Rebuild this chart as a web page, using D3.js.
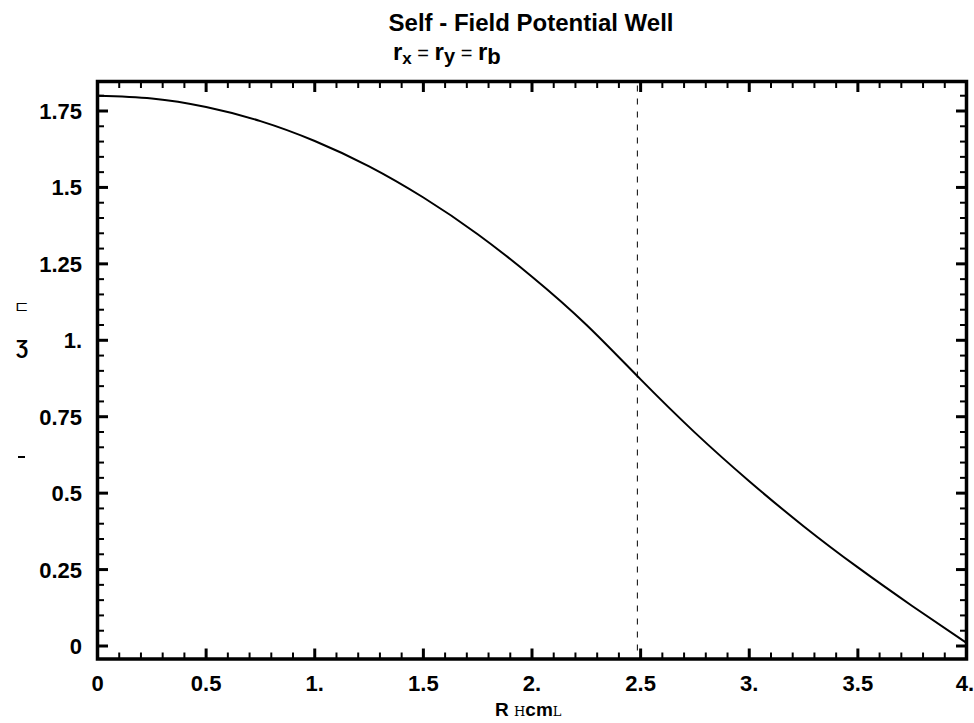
<!DOCTYPE html>
<html>
<head>
<meta charset="utf-8">
<script src="https://cdn.jsdelivr.net/npm/d3@7"></script>
<style>
  body { margin: 0; background: #fff; }
  text { font-family: "Liberation Sans", Arial, sans-serif; }
</style>
</head>
<body>
<svg id="svg1" width="974" height="723"></svg>
<script>
"use strict";

// radius (cm) and potential values
let radius = [0, 0.25, 0.5, 0.75, 1.0, 1.25, 1.5, 1.75, 2.0, 2.25, 2.5, 2.75, 3.0, 3.25, 3.5, 3.75, 4.0];
let potential = [1.800, 1.791, 1.763, 1.717, 1.652, 1.569, 1.467, 1.347, 1.208, 1.051, 0.872, 0.698, 0.539, 0.392, 0.257, 0.131, 0.010];
let beamRadius = 2.485;

let xTicks = [0, 0.5, 1, 1.5, 2, 2.5, 3, 3.5, 4];
let xTickLabels = ["0", "0.5", "1.", "1.5", "2.", "2.5", "3.", "3.5", "4."];
let yTicks = [0, 0.25, 0.5, 0.75, 1, 1.25, 1.5, 1.75];
let yTickLabels = ["0", "0.25", "0.5", "0.75", "1.", "1.25", "1.5", "1.75"];

let svg = d3.select("#svg1");

let x = d3.scaleLinear().domain([0, 4]).range([97.5, 966.5]);
let y = d3.scaleLinear().domain([0, 1.75]).range([646, 111]);
let frameTop = 81.5, frameBottom = 659;

// minor ticks
let xMinor = d3.range(0, 41).map(i => i / 10).filter(v => !xTicks.some(t => Math.abs(t - v) < 1e-6));
let yMinor = d3.range(0, 37).map(i => i / 20).filter(v => !yTicks.some(t => Math.abs(t - v) < 1e-6));

let g = svg.append("g");

// curve
let pts = radius.map((r, i) => [r, potential[i]]);
g.append("path")
    .attr("d", d3.line().x(d => x(d[0])).y(d => y(d[1])).curve(d3.curveNatural)(pts))
    .attr("fill", "none").attr("stroke", "#000").attr("stroke-width", 2);

// dashed line at beam radius
g.append("line")
    .attr("x1", x(beamRadius)).attr("x2", x(beamRadius))
    .attr("y1", frameTop + 4).attr("y2", frameBottom - 2)
    .attr("stroke", "#000").attr("stroke-width", 1).attr("stroke-dasharray", "6,7");

// ticks, all four sides, pointing inward
function tickLines(vals, len, w) {
    vals.forEach(v => {
        let px = x(v);
        g.append("line").attr("x1", px).attr("x2", px).attr("y1", frameBottom).attr("y2", frameBottom - len)
            .attr("stroke", "#000").attr("stroke-width", w);
        g.append("line").attr("x1", px).attr("x2", px).attr("y1", frameTop).attr("y2", frameTop + len)
            .attr("stroke", "#000").attr("stroke-width", w);
    });
}
tickLines(xTicks, 10.5, 3);
tickLines(xMinor, 6.5, 2);

function yTickLines(vals, len, w) {
    vals.forEach(v => {
        let py = y(v);
        g.append("line").attr("x1", x.range()[0]).attr("x2", x.range()[0] + len).attr("y1", py).attr("y2", py)
            .attr("stroke", "#000").attr("stroke-width", w);
        g.append("line").attr("x1", x.range()[1]).attr("x2", x.range()[1] - len).attr("y1", py).attr("y2", py)
            .attr("stroke", "#000").attr("stroke-width", w);
    });
}
yTickLines(yTicks, 10.5, 3);
yTickLines(yMinor, 6.5, 2);

// frame
g.append("rect")
    .attr("x", x.range()[0]).attr("y", frameTop)
    .attr("width", x.range()[1] - x.range()[0]).attr("height", frameBottom - frameTop)
    .attr("fill", "none").attr("stroke", "#000").attr("stroke-width", 3.5);

// tick labels
g.selectAll(".xl").data(xTicks).enter().append("text")
    .attr("x", (d, i) => i === xTicks.length - 1 ? 974 : x(d)).attr("y", 691)
    .attr("text-anchor", (d, i) => i === xTicks.length - 1 ? "end" : "middle")
    .attr("font-size", 22).attr("font-weight", "bold")
    .text((d, i) => xTickLabels[i]);

g.selectAll(".yl").data(yTicks).enter().append("text")
    .attr("x", 82).attr("y", d => y(d) + 8)
    .attr("text-anchor", "end").attr("font-size", 22).attr("font-weight", "bold")
    .text((d, i) => yTickLabels[i]);

// title
svg.append("text").attr("x", 531).attr("y", 31)
    .attr("text-anchor", "middle").attr("font-size", 24).attr("font-weight", "bold")
    .text("Self - Field Potential Well");

let sub = svg.append("text").attr("x", 393).attr("y", 60).attr("font-size", 24).attr("font-weight", "bold");
sub.append("tspan").text("r");
sub.append("tspan").attr("font-size", 17).attr("dy", 4).text("x");
sub.append("tspan").attr("font-weight", "normal").attr("font-size", 20).attr("dy", -4).text(" = ");
sub.append("tspan").text("r");
sub.append("tspan").attr("font-size", 20).attr("dy", 3).text("y");
sub.append("tspan").attr("font-weight", "normal").attr("font-size", 20).attr("dy", -3).text(" = ");
sub.append("tspan").text("r");
sub.append("tspan").attr("font-size", 22).attr("dy", 4).text("b");

// x axis label (garbled brackets kept as in the picture)
let xl = svg.append("text").attr("x", 495).attr("y", 716).attr("font-size", 19).attr("font-weight", "bold");
xl.append("tspan").text("R ");
xl.append("tspan").attr("font-family", "DejaVu Serif").attr("font-weight", "normal").attr("font-size", 13).text("H");
xl.append("tspan").text("cm");
xl.append("tspan").attr("font-family", "DejaVu Serif").attr("font-weight", "normal").attr("font-size", 13).text("L");

// y axis label fragments
svg.append("text").attr("x", 21).attr("y", 311).attr("font-size", 16).attr("text-anchor", "middle")
    .attr("font-family", "DejaVu Sans").text("⊏");
svg.append("text").attr("x", 22).attr("y", 354).attr("font-size", 20)
    .attr("font-weight", "bold").attr("text-anchor", "middle").attr("font-family", "DejaVu Sans").text("Ʒ");
svg.append("line").attr("x1", 18).attr("x2", 25).attr("y1", 457).attr("y2", 457)
    .attr("stroke", "#000").attr("stroke-width", 2);
</script>
</body>
</html>
